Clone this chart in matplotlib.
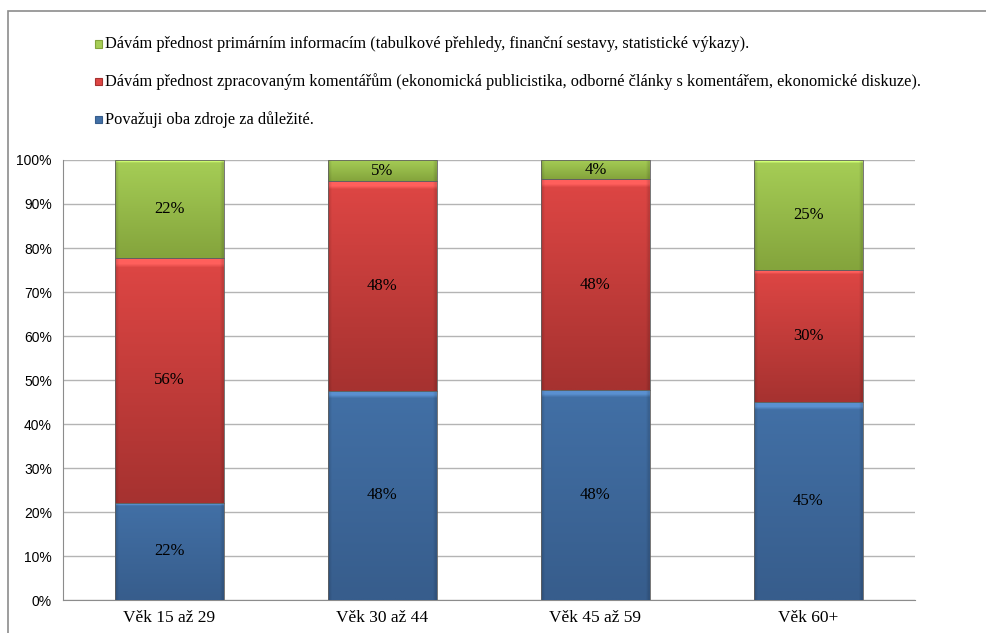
import matplotlib.pyplot as plt
import numpy as np
import matplotlib.colors as mcolors
from matplotlib.patches import Rectangle

# categories and shares (percent) per series, bottom to top
vekove_skupiny = ['Věk 15 až 29', 'Věk 30 až 44', 'Věk 45 až 59', 'Věk 60+']
oba_zdroje = [22.1, 47.6, 47.8, 44.9]
komentare = [55.6, 47.6, 47.8, 30.0]
primarni = [22.3, 4.8, 4.4, 25.1]

legenda = [
    'Dávám přednost primárním informacím (tabulkové přehledy, finanční sestavy, statistické výkazy).',
    'Dávám přednost zpracovaným komentářům (ekonomická publicistika, odborné články s komentářem, ekonomické diskuze).',
    'Považuji oba zdroje za důležité.',
]

# (top colour, bottom colour) of the gradient for each series
barvy = {
    'modra': ('#4270a6', '#375d8c'),
    'cervena': ('#de4644', '#a63230'),
    'zelena': ('#a6ce56', '#84a43c'),
}

serif = ['Liberation Serif', 'DejaVu Serif']
sans = ['Liberation Sans', 'DejaVu Sans']


def gradient_bar(ax, x, bottom, height, width, top_col, bot_col):
    rect = Rectangle((x - width / 2, bottom), width, height,
                     facecolor='none', edgecolor='#606060', linewidth=0.6, zorder=4)
    ax.add_patch(rect)
    c1 = np.array(mcolors.to_rgb(top_col))
    c2 = np.array(mcolors.to_rgb(bot_col))
    t = np.linspace(0, 1, 64)[:, None]
    img = (c1 * (1 - t) + c2 * t)[:, None, :]
    # light bevel along the top edge
    img[:2] = np.clip(c1 * 1.18 + 0.05, 0, 1)
    img = np.repeat(img, 40, axis=1)
    # slightly darker sides
    img[:, :1] = img[:, :1] * 0.88
    img[:, -1:] = img[:, -1:] * 0.88
    im = ax.imshow(img, extent=(x - width / 2, x + width / 2, bottom, bottom + height),
                   aspect='auto', interpolation='bilinear', zorder=3)
    im.set_clip_path(rect)


fig = plt.figure(figsize=(9.87, 6.33), dpi=100)
ax = fig.add_axes([63 / 987, 33 / 633, 852 / 987, 440 / 633])

x = np.arange(len(vekove_skupiny))
sirka = 0.51
for i in x:
    spodek = 0
    for hodnoty, klic in [(oba_zdroje, 'modra'), (komentare, 'cervena'), (primarni, 'zelena')]:
        v = hodnoty[i]
        gradient_bar(ax, i, spodek, v, sirka, *barvy[klic])
        ax.text(i, spodek + v / 2, '%.0f%%' % v, ha='center', va='center',
                fontsize=12, family=serif, color='black', zorder=5)
        spodek += v

ax.set_xlim(-0.5, len(vekove_skupiny) - 0.5)
ax.set_ylim(0, 100)
ax.set_yticks(np.arange(0, 101, 10))
ax.set_yticklabels(['%d%%' % v for v in range(0, 101, 10)], family=sans, fontsize=10)
ax.set_xticks(x)
ax.set_xticklabels(vekove_skupiny, family=serif, fontsize=12.5)
ax.tick_params(axis='y', length=0, pad=8)
ax.tick_params(axis='x', length=0, pad=7)
ax.grid(axis='y', color='#b4b4b4', linewidth=1)
ax.set_axisbelow(True)
for s in ['top', 'right']:
    ax.spines[s].set_visible(False)
ax.spines['left'].set_color('#8c8c8c')
ax.spines['bottom'].set_color('#8c8c8c')

# legend drawn by hand, one entry per line
leg_barvy = [barvy['zelena'], barvy['cervena'], barvy['modra']]
for j, (text, (c_top, c_bot)) in enumerate(zip(legenda, leg_barvy)):
    y = 1 - (44 + 38 * j) / 633
    fig.patches.append(Rectangle((95 / 987, y - 3.5 / 633), 7 / 987, 7 / 633,
                                 transform=fig.transFigure, facecolor=c_top,
                                 edgecolor=c_bot, linewidth=0.8))
    fig.text(105 / 987, y, text, ha='left', va='center', fontsize=11.8,
             family=serif, color='black')

# outer frame
fig.patches.append(Rectangle((8 / 987, -0.1), 1.1, 1 - 11 / 633 + 0.1,
                             transform=fig.transFigure, facecolor='none',
                             edgecolor='#8c8c8c', linewidth=1.2))

fig.savefig('out.png', dpi=100)
